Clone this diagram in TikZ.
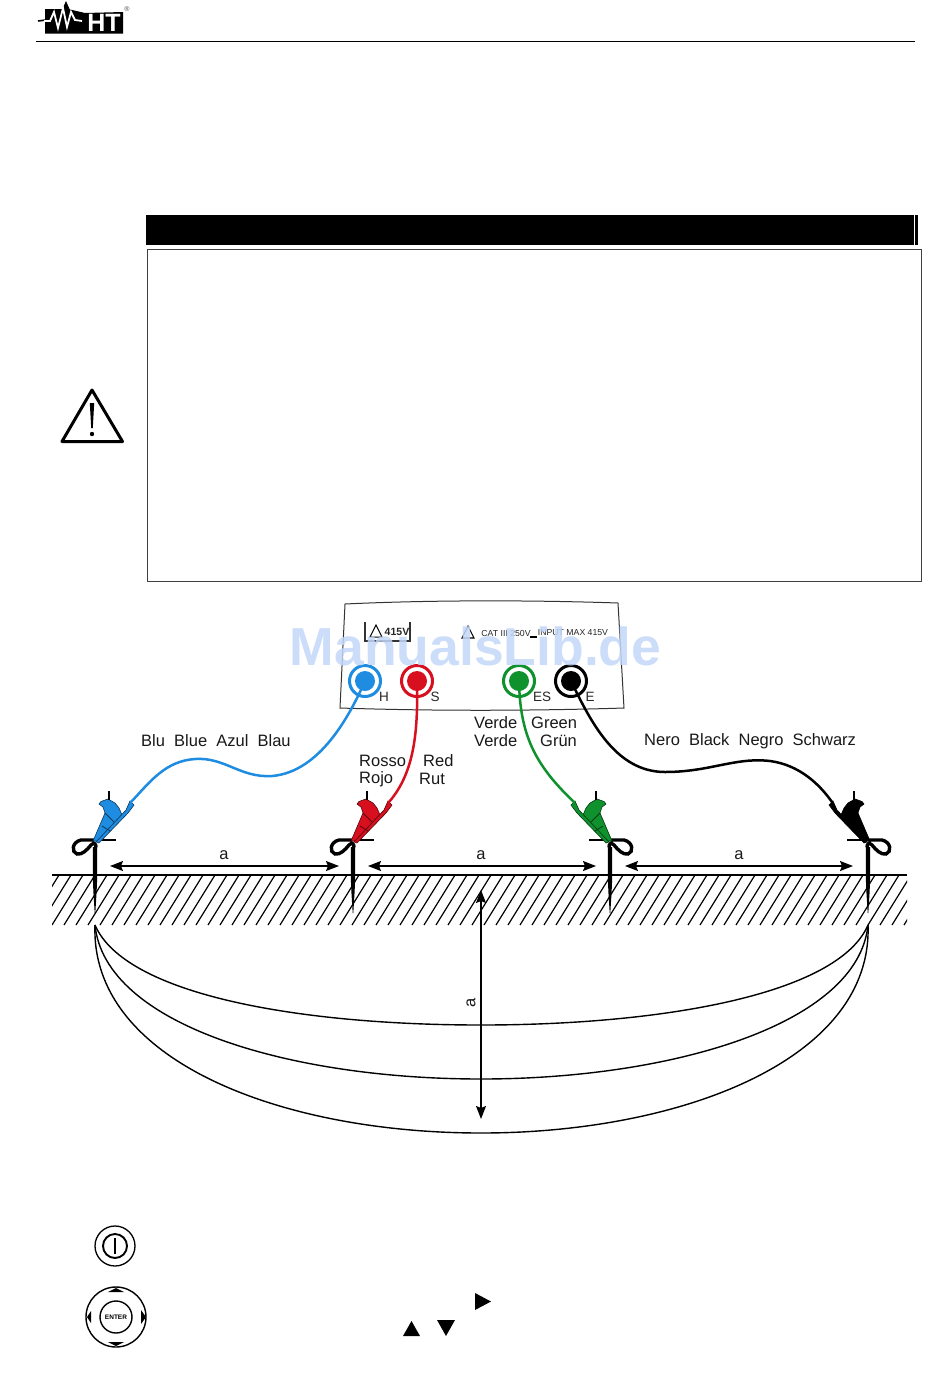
\documentclass[tikz,border=0pt]{standalone}
\usepackage{fontspec}
\setmainfont{Liberation Sans}
\usetikzlibrary{arrows.meta}
\definecolor{cblue}{RGB}{30,140,225}
\definecolor{cred}{RGB}{215,15,30}
\definecolor{cgreen}{RGB}{15,145,45}
\definecolor{cblack}{RGB}{0,0,0}
\definecolor{wm}{RGB}{196,216,250}
\tikzset{
  lbl/.style={font=\fontsize{16.5}{19}\selectfont,inner sep=0pt,text=black!90},
  term/.style={font=\fontsize{13.5}{15}\selectfont,inner sep=0pt,text=black!85},
  small/.style={font=\fontsize{8.7}{10}\selectfont,inner sep=0pt,text=black!85},
  wire/.style={line width=2.5pt,line cap=round},
  dim/.style={line width=1.4pt,{Stealth[length=13pt,width=10pt,inset=2pt]}-{Stealth[length=13pt,width=10pt,inset=2pt]}},
  bowl/.style={line width=1.4pt},
  pics/stake/.style={code={
    \fill[black] (-2.2,7) -- (2.2,7) -- (2.2,38) -- (1.6,52) -- (0.3,73) -- (-0.3,73) -- (-1.6,52) -- (-2.2,38) -- cycle;
    \draw[line width=2.6pt] (-2,0) -- (21,0);
    \draw[line width=3.4pt,line cap=round] (1,7) .. controls (1,4) and (-1,2) .. (-4,5) .. controls (-8,10) and (-13,15) .. (-18,14)
      .. controls (-24,12) and (-23,2) .. (-14,0) -- (0,0);
    \fill[#1,draw=black!60!#1,line width=.6pt] (-2,1) -- (10,-27) -- (8,-33) -- (4,-36) -- (6,-38.5) -- (13,-41) -- (20,-37) -- (24,-32) -- (27,-25) -- (3,1) -- cycle;
    \fill[#1,draw=black!60!#1,line width=.6pt] (1,2) -- (31,-30) -- (35,-39) -- (39,-35) -- (33,-27) -- (4,3) -- cycle;
    \draw[line width=2pt] (14,-40) -- (14,-49);
    \draw[black!60!#1,line width=.8pt] (7,-14) -- (15,-9) (10,-27) -- (19,-18);
  }}
}
\begin{document}
\begin{tikzpicture}[x=1pt,y=-1pt]
\useasboundingbox (0,0) rectangle (950,1398);
\fill[white] (0,0) rectangle (950,1398);
% logo
\fill[black] (45,9) -- (68,9) -- (85,13) -- (123,12) -- (123,33.5) -- (45,33.5) -- cycle;
\draw[black,line width=1.6pt] (38,21) -- (46,20);
\fill[black] (62,10) -- (66,1) -- (70,10) -- cycle;
\draw[white,line width=1.8pt,line join=miter] (44,21) -- (50,21) -- (54,12) -- (58,28) -- (63,8) -- (67,27) -- (71,12) -- (75,20) -- (82,21);
\node[inner sep=0pt,text=white,font=\bfseries\fontsize{25}{25}\selectfont] (logoht) at (104,22.5) {HT};
\node[inner sep=0pt,text=black!70,font=\fontsize{7}{7}\selectfont] (logor) at (127,9) {®};
\draw[line width=1.1pt] (36,41.5) -- (915,41.5);
% warning box
\fill[black] (146,215) rectangle (914,245);
\fill[black] (915,215) rectangle (918,245);
\draw[line width=.9pt,black!75] (147.5,249.5) rectangle (921.5,581.5);
\draw[line width=3pt,line join=round] (92,390) -- (62,441.5) -- (122.5,441.5) -- cycle;
\fill[black] (89.8,403) -- (94.2,403) -- (92.8,428) -- (91.2,428) -- cycle;
\fill[black] (92,434) circle (2.2);
% panel
\draw[line width=1pt,black!80,fill=white] (345,604) .. controls (430,600) and (530,600) .. (618,603)
  -- (624,708) .. controls (530,711) and (430,711) .. (340,708) -- cycle;
\draw[line width=1.2pt,black!80] (365,622) -- (365,641) -- (410,641) -- (410,622);
\draw[line width=1pt] (376,625) -- (370,637) -- (382,637) -- cycle;
\node[small,font=\bfseries\fontsize{10.5}{12}\selectfont] (v1) at (397,632) {415V};
\draw[line width=1.1pt] (468,626) -- (462,638) -- (474,638) -- cycle;
\node[small] (cat) at (506,633) {CAT III 250V};
\draw[line width=1.2pt] (530,637) -- (537,637);
\node[small] (inp) at (573,633) {INPUT MAX 415V};
\node[circle,draw=cblue,line width=3pt,minimum size=31pt,inner sep=0pt] (th) at (365,681) {};
\fill[cblue] (th.center) circle (10);
\node[circle,draw=cred,line width=3pt,minimum size=31pt,inner sep=0pt] (ts) at (417,681) {};
\fill[cred] (ts.center) circle (10);
\node[circle,draw=cgreen,line width=3pt,minimum size=31pt,inner sep=0pt] (tes) at (519,681) {};
\fill[cgreen] (tes.center) circle (10);
\node[circle,draw=black,line width=3pt,minimum size=31pt,inner sep=0pt] (te) at (571,681) {};
\fill[black] (te.center) circle (10);
\node[term] (lh) at (384,697) {H};
\node[term] (ls) at (435,697) {S};
\node[term] (les) at (542,697) {ES};
\node[term] (le) at (590,697) {E};
% ground
\begin{scope}
\clip (52,875) rectangle (907,925);
\foreach \i in {-3,...,72} {\draw[line width=1.2pt] ({52+\i*12},925) -- ++(31,-50);}
\end{scope}
\draw[line width=2.4pt] (52,875) -- (907,875);
% stakes and clips
\pic at (95,840) {stake=cblue};
\pic at (353,840) {stake=cred};
\pic[xscale=-1] at (610,840) {stake=cgreen};
\pic[xscale=-1] at (868,840) {stake=cblack};
\coordinate (cb) at (131,802);
\coordinate (cr) at (389,802);
\coordinate (cg) at (574,802);
\coordinate (ck) at (832,802);
% wires
\draw[wire,cblue] (th.center) .. controls (350,715) and (320,772) .. (272,776)
  .. controls (240,778) and (225,757) .. (195,759) .. controls (165,761) and (150,782) .. (cb);
\draw[wire,cred] (ts.center) .. controls (418,730) and (415,772) .. (cr);
\draw[wire,cgreen] (tes.center) .. controls (520,735) and (535,765) .. (cg);
\draw[wire,black] (te.center) .. controls (590,720) and (615,772) .. (665,772)
  .. controls (710,772) and (735,757) .. (770,761) .. controls (800,765) and (820,785) .. (ck);
% labels
\node[lbl,anchor=west] (t1) at (141,741) {Blu\ \ Blue\ \ Azul\ \ Blau};
\node[lbl,anchor=west] (t2) at (359,761) {Rosso};
\node[lbl,anchor=west] (t3) at (423,761) {Red};
\node[lbl,anchor=west] (t4) at (359,779) {Rojo};
\node[lbl,anchor=west] (t5) at (419,779) {Rut};
\node[lbl,anchor=west] (t6) at (474,723) {Verde};
\node[lbl,anchor=west] (t7) at (531,723) {Green};
\node[lbl,anchor=west] (t8) at (474,741) {Verde};
\node[lbl,anchor=west] (t9) at (540,741) {Grün};
\node[lbl,anchor=west] (t10) at (644,741) {Nero\ \ Black\ \ Negro\ \ Schwarz};
% dimensions
\coordinate (a1) at (110,866); \coordinate (a2) at (339,866);
\coordinate (a3) at (368,866); \coordinate (a4) at (596,866);
\coordinate (a5) at (625,866); \coordinate (a6) at (853,866);
\coordinate (v1t) at (481,890); \coordinate (v1b) at (481,1119);
\draw[dim] (a1) -- (a2);
\draw[dim] (a3) -- (a4);
\draw[dim] (a5) -- (a6);
\draw[dim] (v1t) -- (v1b);
\node[lbl] (da1) at (224,855) {a};
\node[lbl] (da2) at (481,855) {a};
\node[lbl] (da3) at (739,855) {a};
\node[lbl,rotate=90] (da4) at (471,1003) {a};
% bowls
\coordinate (bl) at (95,925); \coordinate (br) at (868,925);
\draw[bowl] (bl) .. controls (125,995) and (300,1025) .. (481,1025) .. controls (660,1025) and (838,995) .. (br);
\draw[bowl] (bl) .. controls (105,1025) and (290,1079) .. (481,1079) .. controls (670,1079) and (858,1025) .. (br);
\draw[bowl] (bl) .. controls (90,1060) and (280,1133) .. (481,1133) .. controls (680,1133) and (873,1060) .. (br);
% buttons
\node[circle,draw,line width=1.3pt,minimum size=40pt,inner sep=0pt] (pw) at (115,1246) {};
\node[circle,draw,line width=1.9pt,minimum size=24pt,inner sep=0pt] (pwi) at (115,1246) {};
\draw[line width=2.4pt] (115,1238) -- (115,1254);
\node[circle,draw,line width=1.4pt,minimum size=60pt,inner sep=0pt] (en) at (116,1317) {};
\node[circle,draw,line width=1.4pt,minimum size=32pt,inner sep=0pt,font=\bfseries\fontsize{6.5}{7}\selectfont] (eni) at (116,1317) {ENTER};
\fill (108,1292) -- (124,1292) -- (116,1288) -- cycle;
\fill (108,1342) -- (124,1342) -- (116,1346) -- cycle;
\fill (91,1311) -- (91,1323) -- (87,1317) -- cycle;
\fill (141,1310) -- (141,1324) -- (146,1317) -- cycle;
\fill (475,1293) -- (475,1310) -- (491,1301.5) -- cycle;
\fill (403,1336) -- (420,1336) -- (411.5,1321) -- cycle;
\fill (437,1320) -- (455,1320) -- (446,1336) -- cycle;
% watermark
\node[inner sep=0pt,text=wm,opacity=.85,font=\bfseries\fontsize{53.5}{54}\selectfont] (wmk) at (475.5,646) {ManualsLib.de};
\end{tikzpicture}
\end{document}
